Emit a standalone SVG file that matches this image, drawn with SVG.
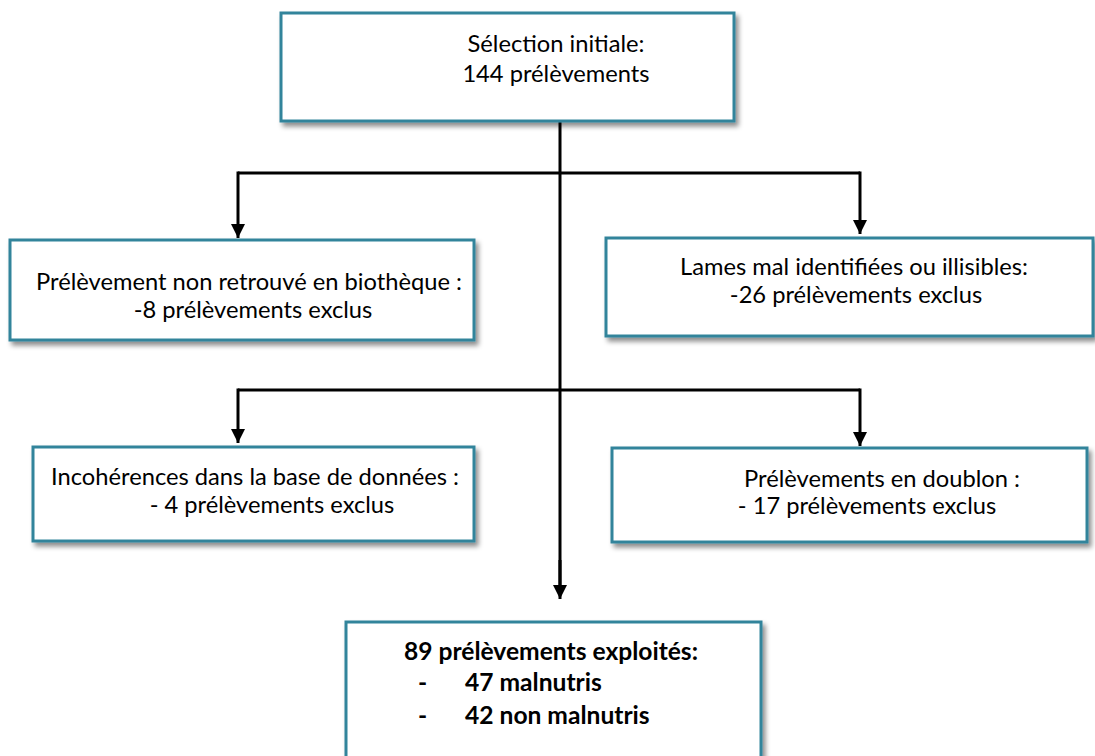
<svg xmlns="http://www.w3.org/2000/svg" width="1095" height="756" viewBox="0 0 1095 756">
<style>
.box{fill:#fff;stroke:#31849B;stroke-width:3;filter:url(#sh)}
.t{font-family:Lato,"Liberation Sans",sans-serif;font-size:23.7px;fill:#000;text-anchor:middle}
.b{font-weight:bold;text-anchor:start;font-size:24.6px}
.c{fill:none;stroke:#000;stroke-width:3;marker-end:url(#ah)}
.l{fill:none;stroke:#000;stroke-width:3}
</style>
<defs>
<filter id="sh" x="-10%" y="-10%" width="120%" height="130%">
<feDropShadow dx="3" dy="4" stdDeviation="2.5" flood-color="#000" flood-opacity="0.45"/>
</filter>
<marker id="ah" viewBox="0 0 14 14" refX="14" refY="7" markerWidth="14" markerHeight="14" markerUnits="userSpaceOnUse" orient="auto">
<path d="M0,0 L14,7 L0,14 z" fill="#000"/>
</marker>
</defs>
<rect width="1095" height="756" fill="#fff"/>
<g id="connectors">
<path class="l" d="M560,121 V585"/>
<path class="c" d="M560,560 V599"/>
<path class="l" d="M238,173 H860"/>
<path class="c" d="M238,171.5 V238"/>
<path class="c" d="M860,171.5 V234"/>
<path class="l" d="M238,390 H860"/>
<path class="c" d="M238,388.5 V443"/>
<path class="c" d="M860,388.5 V446"/>
</g>
<g id="n1">
<rect class="box" x="281" y="13" width="453" height="108"/>
<text class="t" x="556" y="52">Sélection initiale:</text>
<text class="t" x="556" y="82">144 prélèvements</text>
</g>
<g id="n2">
<rect class="box" x="10" y="240" width="464" height="100"/>
<text class="t" x="249" y="290">Prélèvement non retrouvé en biothèque :</text>
<text class="t" x="253" y="318">-8 prélèvements exclus</text>
</g>
<g id="n3">
<rect class="box" x="606" y="238" width="487" height="98"/>
<text class="t" x="854" y="275">Lames mal identifiées ou illisibles:</text>
<text class="t" x="856" y="303">-26 prélèvements exclus</text>
</g>
<g id="n4">
<rect class="box" x="33" y="447" width="441" height="94"/>
<text class="t" x="255" y="485">Incohérences dans la base de données :</text>
<text class="t" x="272" y="513">- 4 prélèvements exclus</text>
</g>
<g id="n5">
<rect class="box" x="612" y="448" width="475" height="94"/>
<text class="t" x="882" y="487">Prélèvements en doublon :</text>
<text class="t" x="867" y="514">- 17 prélèvements exclus</text>
</g>
<g id="n6">
<rect class="box" x="346" y="622" width="415" height="160"/>
<text class="t b" x="404" y="660">89 prélèvements exploités:</text>
<text class="t b" x="418" y="691">-</text>
<text class="t b" x="465" y="691">47 malnutris</text>
<text class="t b" x="418" y="724">-</text>
<text class="t b" x="465" y="724">42 non malnutris</text>
</g>
</svg>
